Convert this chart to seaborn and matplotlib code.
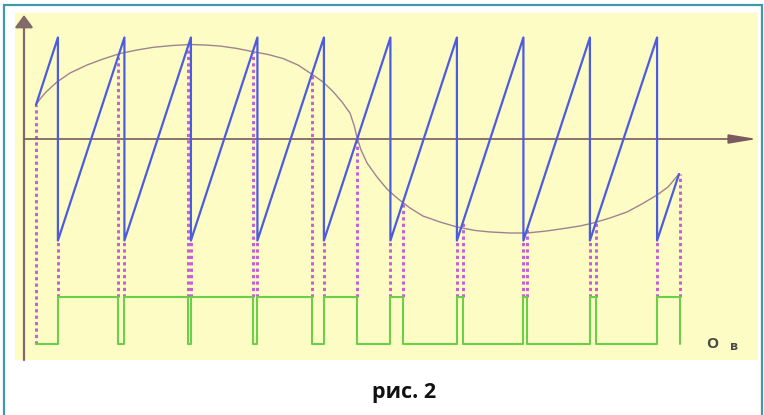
import numpy as np
import seaborn as sns
import matplotlib.pyplot as plt
from matplotlib.patches import Rectangle

# time in ramp periods, amplitude in ramp units (ramp goes -1 .. +1)
ramp_drops = [0.51, 1.51, 2.51, 3.51, 4.51, 5.51, 6.51, 7.51, 8.51, 9.52]
ramp_start = (0.18, 0.335)
ramp_end = (9.85, -0.345)

# modulating signal
sig_t = [0.180, 0.241, 0.331, 0.496, 0.692, 0.947, 1.188, 1.444, 1.699,
         1.940, 2.226, 2.496, 2.722, 2.947, 3.203, 3.429, 3.669, 3.895,
         4.120, 4.346, 4.496, 4.647, 4.782, 4.902, 4.962, 5.015, 5.068,
         5.158, 5.308, 5.459, 5.609, 5.805, 6.000, 6.256, 6.511, 6.782,
         7.008, 7.308, 7.564, 7.865, 8.165, 8.361, 8.556, 8.812, 9.068,
         9.293, 9.519, 9.684, 9.850]
sig_v = [0.335, 0.394, 0.463, 0.562, 0.650, 0.729, 0.788, 0.842, 0.877,
         0.903, 0.921, 0.931, 0.926, 0.916, 0.892, 0.862, 0.833, 0.793,
         0.729, 0.631, 0.562, 0.468, 0.365, 0.256, 0.138, 0.0, -0.108,
         -0.236, -0.374, -0.493, -0.581, -0.680, -0.759, -0.818, -0.867,
         -0.901, -0.916, -0.926, -0.926, -0.906, -0.877, -0.857, -0.828,
         -0.778, -0.719, -0.640, -0.552, -0.473, -0.345]

# points where the ramp meets the signal (output switches off)
cross_t = [1.41, 2.47, 3.44, 4.33, 5.01, 5.70, 6.60, 7.57, 8.60, 9.86]
cross_v = [0.805, 0.92, 0.856, 0.63, 0.0, -0.615, -0.83, -0.886, -0.83, -0.345]

# output state: on at every ramp drop, off at every crossing
pwm_t = [ramp_start[0]]
pwm_s = [0]
for d, c in zip(ramp_drops, cross_t):
    pwm_t += [d, c]
    pwm_s += [1, 0]

W, H = 764, 415
x0, px_t = 24, 66.5      # y axis position, pixels per period
y0, px_v = 139, 101.5    # x axis position, pixels per unit
pwm_lo, pwm_hi = (y0 - 344) / px_v, (y0 - 297) / px_v

sns.set_style('white')
plt.rcParams['font.family'] = ['Open Sans', 'DejaVu Sans']

fig = plt.figure(figsize=(W / 100, H / 100), dpi=100)
ax = fig.add_axes([0, 0, 1, 1])
ax.set_zorder(2)
ax.set_xlim(-x0 / px_t, (W - x0) / px_t)
ax.set_ylim((y0 - H) / px_v, y0 / px_v)
ax.axis('off')

# frame and cream panel
fig.patches.append(Rectangle((4 / W, -0.05), 758 / W, 1.05 - 5 / H,
                             transform=fig.transFigure, fill=False,
                             edgecolor='#3d9aab', lw=1.6, zorder=0))
fig.patches.append(Rectangle((15 / W, 1 - 360 / H), 743 / W, 347 / H,
                             transform=fig.transFigure, facecolor='#fcfcc4',
                             edgecolor='none', zorder=0))

# axes with arrows
ax.annotate('', xy=(0, (y0 - 15) / px_v), xytext=(0, (y0 - 360) / px_v),
            arrowprops=dict(arrowstyle='-|>,head_length=0.75,head_width=0.55',
                            mutation_scale=10, color='#806a6a', lw=1.6,
                            shrinkA=0, shrinkB=0))
ax.annotate('', xy=((757 - x0) / px_t, 0), xytext=(0, 0),
            arrowprops=dict(arrowstyle='-|>,head_length=1.7,head_width=0.28',
                            mutation_scale=10, color='#7a5a5e', lw=1.2,
                            shrinkA=0, shrinkB=0))

# dashed guide lines
dash_kw = dict(colors='#c45ed6', lw=2.1, linestyles=(0, (1.1, 1.1)), zorder=2)
ax.vlines([ramp_start[0]], pwm_lo, ramp_start[1], **dash_kw)
ax.vlines(ramp_drops, pwm_hi, -1, **dash_kw)
ax.vlines(cross_t, pwm_hi, cross_v, **dash_kw)

# modulating signal
sns.lineplot(x=sig_t, y=sig_v, sort=False, estimator=None, ax=ax,
             color='#a08292', lw=1.0, zorder=3)

# ramp
saw_t = [ramp_start[0]]
saw_v = [ramp_start[1]]
for d in ramp_drops:
    saw_t += [d, d]
    saw_v += [1, -1]
saw_t.append(ramp_end[0])
saw_v.append(ramp_end[1])
sns.lineplot(x=saw_t, y=saw_v, sort=False, estimator=None, ax=ax,
             color='#4c5ce0', lw=1.6, zorder=4)

# PWM output
pwm_y = [pwm_lo + s * (pwm_hi - pwm_lo) for s in pwm_s]
sns.lineplot(x=pwm_t, y=pwm_y, sort=False, estimator=None, ax=ax,
             color='#6ccf4a', lw=1.5, drawstyle='steps-post', zorder=4)

fig.text(712 / W, 1 - 344 / H, 'O', ha='center', va='center',
         fontsize=11, fontweight='bold', color='#4a4a4a', zorder=5)
fig.text(734 / W, 1 - 346 / H, 'в', ha='center', va='center',
         fontsize=9, fontweight='bold', color='#4a4a4a', zorder=5)
fig.text(404 / W, 1 - 392 / H, 'рис. 2', ha='center', va='center',
         fontsize=15.5, fontweight='bold', color='#111111', zorder=5)

fig.savefig('out.png', dpi=100)
